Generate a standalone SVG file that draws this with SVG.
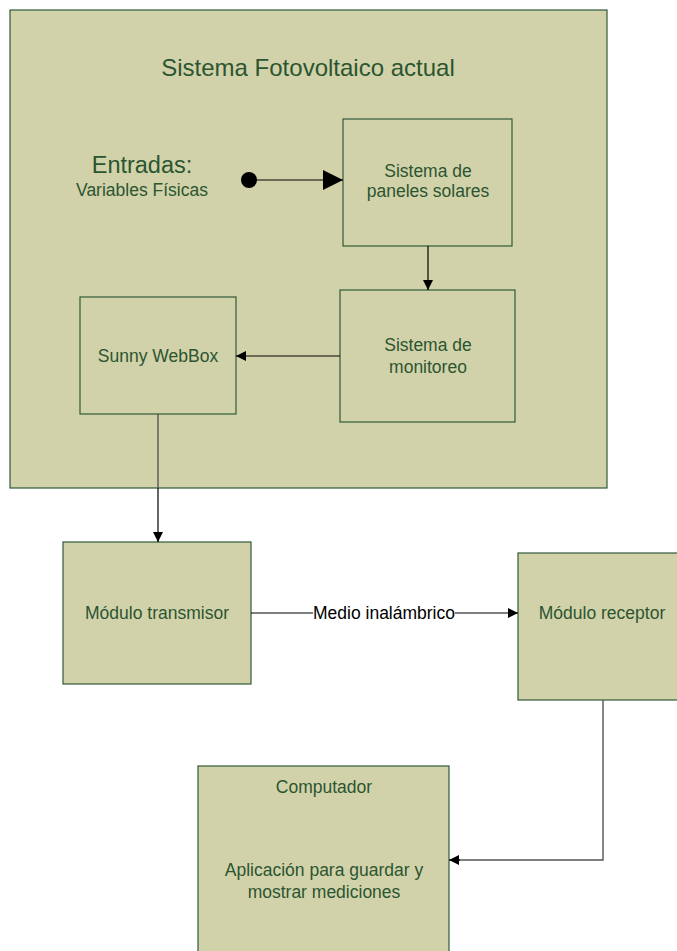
<svg xmlns="http://www.w3.org/2000/svg" width="677" height="951" viewBox="0 0 677 951">
  <defs>
    <style>
      .box { fill: #d2d2aa; stroke: #2f5a37; stroke-width: 1.2; }
      .lbl { font-family: "Liberation Sans", Arial, sans-serif; fill: #2b5530; text-anchor: middle; font-size: 17.5px; }
      .wire { stroke: #000; stroke-width: 1.2; fill: none; }
      .wire-grey { stroke: #555; stroke-width: 1.4; fill: none; }
    </style>
    <marker id="arr" viewBox="0 0 10 10" refX="10" refY="5" markerWidth="10" markerHeight="10" markerUnits="userSpaceOnUse" orient="auto">
      <path d="M0,0 L10,5 L0,10 Z" fill="#000"/>
    </marker>
    <marker id="arrBig" viewBox="0 0 10 10" refX="10" refY="5" markerWidth="20" markerHeight="20" markerUnits="userSpaceOnUse" orient="auto">
      <path d="M0,0 L10,5 L0,10 Z" fill="#000"/>
    </marker>
  </defs>

  <!-- enclosing system -->
  <g id="sistema">
    <rect class="box" x="10" y="10" width="597" height="478"/>
    <text class="lbl" x="308" y="76" style="font-size:24px">Sistema Fotovoltaico actual</text>
  </g>

  <g id="entradas">
    <text class="lbl" x="142" y="173" style="font-size:23.5px">Entradas:</text>
    <text class="lbl" x="142" y="196">Variables Físicas</text>
  </g>

  <g id="paneles">
    <rect class="box" x="343" y="119" width="169" height="127"/>
    <text class="lbl" x="428" y="177">Sistema de</text>
    <text class="lbl" x="428" y="197">paneles solares</text>
  </g>

  <g id="monitoreo">
    <rect class="box" x="340" y="290" width="175" height="132"/>
    <text class="lbl" x="428" y="351">Sistema de</text>
    <text class="lbl" x="428" y="373">monitoreo</text>
  </g>

  <g id="webbox">
    <rect class="box" x="80" y="297" width="156" height="117"/>
    <text class="lbl" x="158" y="362">Sunny WebBox</text>
  </g>

  <g id="transmisor">
    <rect class="box" x="63" y="542" width="188" height="142"/>
    <text class="lbl" x="157" y="619">Módulo transmisor</text>
  </g>

  <g id="receptor">
    <rect class="box" x="518" y="553" width="165" height="147"/>
    <text class="lbl" x="602" y="619">Módulo receptor</text>
  </g>

  <g id="computador">
    <rect class="box" x="198" y="766" width="251" height="200"/>
    <text class="lbl" x="324" y="793">Computador</text>
    <text class="lbl" x="324" y="876">Aplicación para guardar y</text>
    <text class="lbl" x="324" y="898">mostrar mediciones</text>
  </g>

  <!-- connectors -->
  <g id="connectors">
    <circle cx="249" cy="180" r="8" fill="#000"/>
    <line class="wire" x1="249" y1="180" x2="343" y2="180" marker-end="url(#arrBig)"/>
    <line class="wire" x1="428" y1="246" x2="428" y2="290" marker-end="url(#arr)"/>
    <line class="wire" x1="340" y1="356" x2="236" y2="356" marker-end="url(#arr)"/>
    <line class="wire-grey" x1="158" y1="414" x2="158" y2="488"/>
    <line class="wire" x1="158" y1="488" x2="158" y2="542" marker-end="url(#arr)"/>
    <line class="wire" x1="251" y1="613" x2="313" y2="613"/>
    <line class="wire" x1="455" y1="613" x2="518" y2="613" marker-end="url(#arr)"/>
    <text x="384" y="619" font-size="17.5" font-family="Liberation Sans, Arial, sans-serif" fill="#000" text-anchor="middle">Medio inalámbrico</text>
    <polyline class="wire-grey" points="603,700 603,860 459,860"/>
    <line class="wire" x1="460" y1="860" x2="449" y2="860" marker-end="url(#arr)"/>
  </g>
</svg>
